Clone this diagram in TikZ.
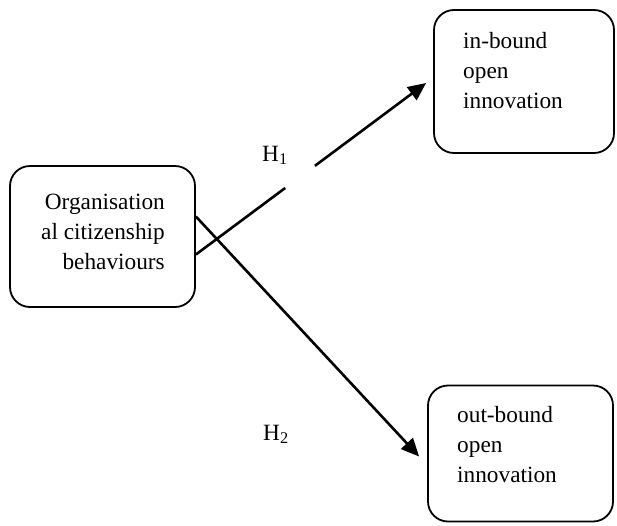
\documentclass[tikz,border=0pt]{standalone}
\usepackage{fontspec}
\setmainfont{Liberation Serif}
\usetikzlibrary{arrows.meta,calc}
\begin{document}
\begin{tikzpicture}[x=1pt,y=-1pt,
  box/.style={draw, line width=1.8pt, rounded corners=20pt, inner sep=0pt},
  txt/.style={inner sep=0pt, font=\fontsize{23.3}{30}\selectfont},
  conn/.style={line width=2.6pt},
  arr/.style={conn, -{Triangle[length=18pt,width=16pt]}}]
\useasboundingbox (0,0) rectangle (617,525);
% boxes
\node[box, minimum width=185pt, minimum height=141pt] (ocb) at (102.5,236.5) {};
\node[box, minimum width=180pt, minimum height=143pt] (inb) at (524,81.5) {};
\node[box, minimum width=185pt, minimum height=136pt] (outb) at (520.5,453.5) {};
% texts
\node[txt, align=right, anchor=north east] (ocbt) at (165,194) {Organisation\\al citizenship\\behaviours};
\node[txt, align=left, anchor=north west] (inbt) at (463,32.5) {in-bound\\open\\innovation};
\node[txt, align=left, anchor=north west] (outbt) at (457,406) {out-bound\\open\\innovation};
\node[txt, anchor=base west] (h1) at (262,161) {H\textsubscript{1}};
\node[txt, anchor=base west] (h2) at (263,440) {H\textsubscript{2}};
% connectors
\coordinate (s1) at ([yshift=-18pt]ocb.east);
\coordinate (e1) at ([xshift=-7pt,yshift=-1.5pt]inb.west);
\draw[conn] (s1) -- ($(s1)!0.388!(e1)$);
\draw[arr] ($(s1)!0.517!(e1)$) -- (e1);
\coordinate (s2) at ([yshift=20pt]ocb.east);
\coordinate (e2) at ([xshift=-8pt,yshift=-3pt]outb.west);
\draw[arr] (s2) -- (e2);
\end{tikzpicture}
\end{document}
